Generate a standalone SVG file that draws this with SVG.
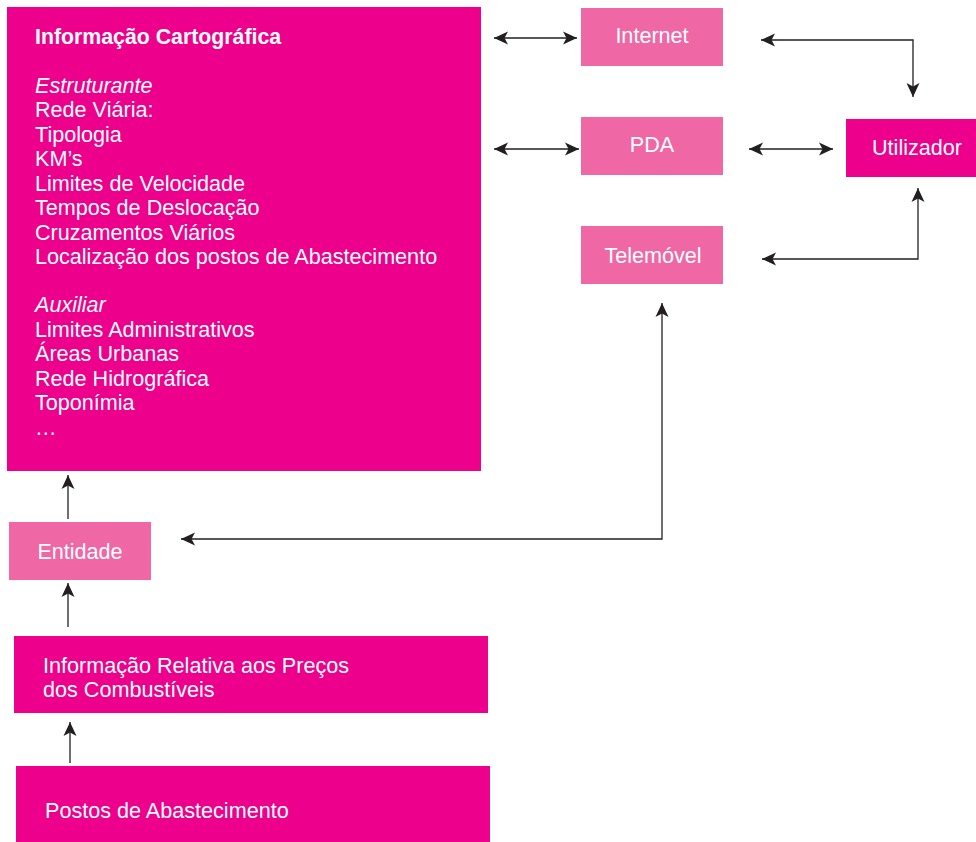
<svg xmlns="http://www.w3.org/2000/svg" width="976" height="842" viewBox="0 0 976 842">
<style>
.dark{fill:#EC008C}
.light{fill:#F067A6}
text{font-family:"Liberation Sans",Arial,sans-serif;font-size:21.6px;fill:#ffffff}
.b{font-weight:bold;font-size:21.3px}
.i{font-style:italic}
.c{text-anchor:middle}
.con{fill:none;stroke:#231F20;stroke-width:1.3}
</style>
<defs>
<marker id="ah" markerUnits="userSpaceOnUse" markerWidth="16" markerHeight="14" viewBox="0 0 16 14" refX="15" refY="7" orient="auto-start-reverse">
<path d="M1,0.5 L15,7 L1,13.5 L4.5,7 z" fill="#231F20"/>
</marker>
</defs>
<rect width="976" height="842" fill="#ffffff"/>
<g id="cartografica">
<rect class="dark" x="7" y="7" width="474" height="464"/>
<text class="b" x="35" y="44">Informação Cartográfica</text>
<text class="i" x="35" y="92.5">Estruturante</text>
<text x="35" y="117">Rede Viária:</text>
<text x="35" y="141.5">Tipologia</text>
<text x="35" y="166">KM’s</text>
<text x="35" y="190.5">Limites de Velocidade</text>
<text x="35" y="215">Tempos de Deslocação</text>
<text x="35" y="239.5">Cruzamentos Viários</text>
<text x="35" y="264">Localização dos postos de Abastecimento</text>
<text class="i" x="35" y="312">Auxiliar</text>
<text x="35" y="336.5">Limites Administrativos</text>
<text x="35" y="361">Áreas Urbanas</text>
<text x="35" y="385.5">Rede Hidrográfica</text>
<text x="35" y="410">Toponímia</text>
<text x="35" y="434.5">…</text>
</g>
<g id="internet">
<rect class="light" x="581" y="8" width="142" height="58"/>
<text class="c" x="652" y="43">Internet</text>
</g>
<g id="pda">
<rect class="light" x="581" y="117" width="142" height="58"/>
<text class="c" x="652" y="152">PDA</text>
</g>
<g id="telemovel">
<rect class="light" x="581" y="226" width="142" height="58"/>
<text class="c" x="653" y="263">Telemóvel</text>
</g>
<g id="utilizador">
<rect class="dark" x="846" y="119" width="130" height="58"/>
<text x="872" y="155">Utilizador</text>
</g>
<g id="entidade">
<rect class="light" x="9" y="522" width="142" height="58"/>
<text class="c" x="80" y="559">Entidade</text>
</g>
<g id="precos">
<rect class="dark" x="14" y="636" width="474" height="77"/>
<text x="43" y="673">Informação Relativa aos Preços</text>
<text x="43" y="697">dos Combustíveis</text>
</g>
<g id="postos">
<rect class="dark" x="16" y="766" width="474" height="76"/>
<text x="45" y="818">Postos de Abastecimento</text>
</g>
<g id="connectors">
<path class="con" d="M494,38 H577" marker-start="url(#ah)" marker-end="url(#ah)"/>
<path class="con" d="M494,149 H579" marker-start="url(#ah)" marker-end="url(#ah)"/>
<path class="con" d="M761,40 H913 V97" marker-start="url(#ah)" marker-end="url(#ah)"/>
<path class="con" d="M749,149 H833" marker-start="url(#ah)" marker-end="url(#ah)"/>
<path class="con" d="M762,259 H918 V188" marker-start="url(#ah)" marker-end="url(#ah)"/>
<path class="con" d="M662,303 V539 H181" marker-start="url(#ah)" marker-end="url(#ah)"/>
<path class="con" d="M68,519 V475" marker-end="url(#ah)"/>
<path class="con" d="M68,627 V583" marker-end="url(#ah)"/>
<path class="con" d="M70,763 V722" marker-end="url(#ah)"/>
</g>
</svg>
